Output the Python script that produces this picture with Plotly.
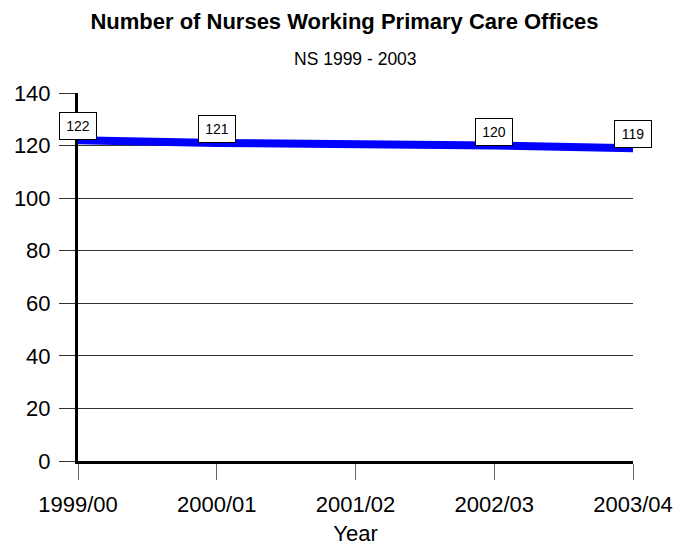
import plotly.graph_objects as go

# Fiscal years and nurse counts
years = ["1999/00", "2000/01", "2001/02", "2002/03", "2003/04"]
nurses = [122, 121, None, 120, 119]

title_text = "Number of Nurses Working Primary Care Offices"
subtitle_text = "NS 1999 - 2003"
x_title = "Year"
y_ticks = [0, 20, 40, 60, 80, 100, 120, 140]

FONT = "Liberation Sans, Arial, sans-serif"
W, H = 689, 546
M = dict(l=78, r=56, t=93, b=85)

fig = go.Figure()
fig.add_trace(go.Scatter(
    x=years, y=nurses, mode="lines", connectgaps=True,
    line=dict(color="#0000FF", width=8),
    hoverinfo="skip", showlegend=False,
))

# Boxed value labels sitting just above each point
for x, v in zip(years, nurses):
    if v is None:
        continue
    fig.add_annotation(
        x=x, y=v, text=str(v), showarrow=False,
        xanchor="center", yanchor="bottom",
        width=26, height=16,
        font=dict(family=FONT, size=14, color="black"),
        bgcolor="white", bordercolor="black", borderwidth=1, borderpad=5,
    )

fig.update_layout(
    width=W, height=H,
    margin=M,
    paper_bgcolor="white", plot_bgcolor="white",
    font=dict(family=FONT, color="black"),
    title=dict(
        text=f"<b>{title_text}</b>",
        x=0.5, xanchor="center", y=1 - 21 / H, yanchor="middle",
        font=dict(family=FONT, size=22, color="black"),
    ),
    showlegend=False,
)
plot_h = H - M["t"] - M["b"]
fig.add_annotation(
    text=subtitle_text, xref="paper", yref="paper",
    x=0.5, y=1 + (M["t"] - 59) / plot_h, xanchor="center", yanchor="middle",
    showarrow=False, font=dict(family=FONT, size=17.5, color="black"),
)

fig.update_xaxes(
    type="category", range=[0, 4], automargin=False,
    showline=True, linecolor="black", linewidth=3,
    ticks="outside", ticklen=16, tickcolor="#666", tickwidth=1,
    showgrid=False, zeroline=False,
    tickfont=dict(family=FONT, size=22, color="black"),
    ticklabelstandoff=6,
    title=dict(text=x_title, font=dict(family=FONT, size=22, color="black"), standoff=11),
)
fig.update_yaxes(
    range=[0, 140], tickvals=y_ticks, automargin=False,
    showline=True, linecolor="black", linewidth=3,
    ticks="outside", ticklen=16, tickcolor="#333", tickwidth=1,
    showgrid=True, gridcolor="#333", gridwidth=1, zeroline=False,
    tickfont=dict(family=FONT, size=22, color="black"),
    ticklabelstandoff=4,
)

fig.write_html("out.html")
